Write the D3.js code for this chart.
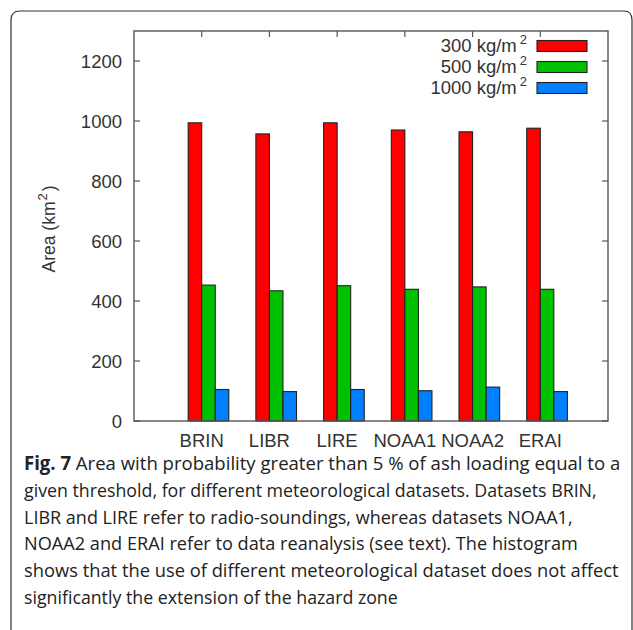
<!DOCTYPE html>
<html>
<head>
<meta charset="utf-8">
<script src="https://cdn.jsdelivr.net/npm/d3@7"></script>
<style>
  body { margin: 0; background: #fff; }
  svg { display: block; }
</style>
</head>
<body>
<svg id="chart" width="633" height="630"></svg>
<script>
// Meteorological datasets (x categories) and ash-loading thresholds (series)
const datasets = ["BRIN", "LIBR", "LIRE", "NOAA1", "NOAA2", "ERAI"];
const thresholds = ["300", "500", "1000"];

// Area (km^2) with probability > 5 % for each threshold
const area300 = [994, 957, 994, 970, 964, 976];
const area500 = [453, 434, 451, 439, 447, 439];
const area1000 = [105, 98, 105, 101, 113, 98];

const yTicks = [0, 200, 400, 600, 800, 1000, 1200];
const seriesColors = ["#ff0000", "#00c000", "#0080ff"];

const captionLines = [
  [{ t: "Fig. 7", b: true }, { t: " Area with probability greater than 5 % of ash loading equal to a" }],
  [{ t: "given threshold, for different meteorological datasets. Datasets BRIN," }],
  [{ t: "LIBR and LIRE refer to radio-soundings, whereas datasets NOAA1," }],
  [{ t: "NOAA2 and ERAI refer to data reanalysis (see text). The histogram" }],
  [{ t: "shows that the use of different meteorological dataset does not affect" }],
  [{ t: "significantly the extension of the hazard zone" }]
];
const captionWidths = [597, 573, 549, 554, 595, 374];

const series = [area300, area500, area1000];

const svg = d3.select("#chart");
const plot = { left: 134, right: 608, top: 31, bottom: 421 };
const axisColor = "#555";
const textColor = "#333";
const chartFont = "'Liberation Sans', Arial, sans-serif";
const labelSize = 18.5;

// Figure frame: rounded box open at the bottom, running off the right edge
svg.append("path")
  .attr("d", "M11,640 L11,20 Q11,11 20,11 L624,11 Q632,11 632,20 L632,640")
  .attr("fill", "none")
  .attr("stroke", "#333")
  .attr("stroke-width", 1.2);

const x = d3.scaleLinear().domain([-1, 6]).range([plot.left, plot.right]);
const y = d3.scaleLinear().domain([0, 1300]).range([plot.bottom, plot.top]);
const barW = 0.2;

// Inward tick marks on all four sides (drawn beneath the bars)
const ticks = svg.append("g").attr("stroke", axisColor).attr("stroke-width", 1.2);
yTicks.forEach(v => {
  ticks.append("line").attr("x1", plot.left).attr("x2", plot.left + 6).attr("y1", y(v)).attr("y2", y(v));
  ticks.append("line").attr("x1", plot.right).attr("x2", plot.right - 6).attr("y1", y(v)).attr("y2", y(v));
});
datasets.forEach((d, i) => {
  ticks.append("line").attr("x1", x(i)).attr("x2", x(i)).attr("y1", plot.top).attr("y2", plot.top + 6);
  ticks.append("line").attr("x1", x(i)).attr("x2", x(i)).attr("y1", plot.bottom).attr("y2", plot.bottom - 6);
});

// Clustered bars
const bars = svg.append("g");
series.forEach((vals, j) => {
  bars.selectAll(null)
    .data(vals)
    .enter()
    .append("rect")
    .attr("x", (v, i) => x(i + (j - 1) * barW))
    .attr("width", x(barW) - x(0))
    .attr("y", v => y(v))
    .attr("height", v => y(0) - y(v))
    .attr("fill", seriesColors[j])
    .attr("stroke", "#222")
    .attr("stroke-width", 1.1);
});

// Plot border
svg.append("rect")
  .attr("x", plot.left).attr("y", plot.top)
  .attr("width", plot.right - plot.left).attr("height", plot.bottom - plot.top)
  .attr("fill", "none").attr("stroke", axisColor).attr("stroke-width", 1.4);

// Y tick labels
svg.append("g").selectAll("text")
  .data(yTicks).enter().append("text")
  .attr("x", plot.left - 12)
  .attr("y", v => y(v))
  .attr("dy", "0.36em")
  .attr("text-anchor", "end")
  .attr("font-family", chartFont).attr("font-size", labelSize)
  .attr("fill", textColor)
  .text(v => v);

// X category labels
svg.append("g").selectAll("text")
  .data(datasets).enter().append("text")
  .attr("x", (d, i) => x(i))
  .attr("y", 447)
  .attr("text-anchor", "middle")
  .attr("font-family", chartFont).attr("font-size", labelSize)
  .attr("fill", textColor)
  .text(d => d);

// Y axis title
const yTitle = svg.append("text")
  .attr("transform", "translate(55,229) rotate(-90)")
  .attr("text-anchor", "middle")
  .attr("font-family", chartFont).attr("font-size", 17.5)
  .attr("fill", textColor);
yTitle.append("tspan").text("Area (km");
yTitle.append("tspan").attr("font-size", 13).attr("dy", -8).attr("dx", 1).text("2");
yTitle.append("tspan").attr("dy", 8).attr("dx", 2).text(")");

// Legend
const legend = svg.append("g");
thresholds.forEach((t, j) => {
  const cy = 46 + j * 21;
  const lt = legend.append("text")
    .attr("x", 527).attr("y", cy + 6)
    .attr("text-anchor", "end")
    .attr("font-family", chartFont).attr("font-size", labelSize)
    .attr("fill", textColor);
  lt.append("tspan").text(t + " kg/m");
  lt.append("tspan").attr("font-size", 13).attr("dy", -8).attr("dx", 3).text("2");
  legend.append("rect")
    .attr("x", 537).attr("y", cy - 5.5)
    .attr("width", 50).attr("height", 11)
    .attr("fill", seriesColors[j])
    .attr("stroke", "#222").attr("stroke-width", 1.1);
});

// Figure caption: each line is squeezed horizontally to its set width
const cap = svg.append("g")
  .attr("font-family", "'Open Sans', 'Noto Sans', sans-serif")
  .attr("font-size", 19)
  .attr("fill", "#222");
captionLines.forEach((parts, k) => {
  const t = cap.append("text").attr("x", 0).attr("y", 0);
  parts.forEach(p => {
    t.append("tspan").attr("font-weight", p.b ? "bold" : "normal").text(p.t);
  });
  const w = t.node().getComputedTextLength();
  const sx = captionWidths[k] / w;
  t.attr("transform", `translate(24,${470 + k * 26.8}) scale(${sx},1)`);
});
</script>
</body>
</html>
